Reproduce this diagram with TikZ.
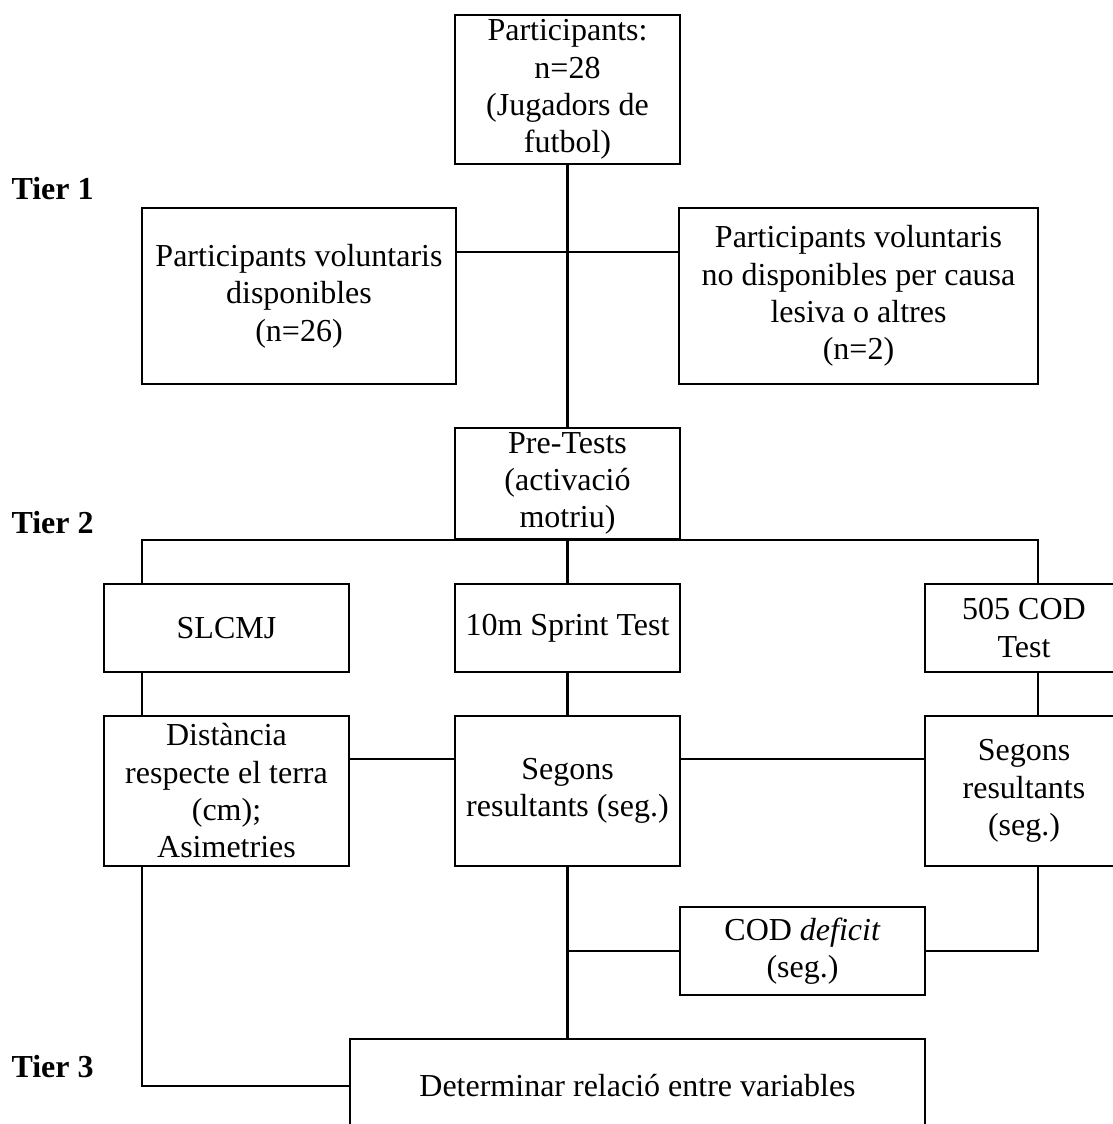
\documentclass[tikz,border=0pt]{standalone}
\usepackage{fontspec}
\setmainfont{Liberation Serif}
\tikzset{
  blok/.style={draw, line width=0.8pt, inner sep=0pt, align=center,
    font=\fontsize{12}{14}\selectfont},
  tierlabel/.style={anchor=west, inner sep=0pt, font=\fontsize{12}{14}\selectfont\bfseries},
  lnk/.style={line width=0.8pt}
}
\begin{document}
\begin{tikzpicture}[x=0.375pt,y=-0.375pt]
                \useasboundingbox (0,0) rectangle (1113,1124);
                % tier 1
                \node[blok, minimum width=84.4pt, minimum height=55.9pt] (part) at (567.5,89.5) {Participants:\\n=28\\(Jugadors de\\futbol)};
                \node[blok, minimum width=117.75pt, minimum height=66pt] (vol) at (299,296) {Participants voluntaris\\disponibles\\(n=26)};
                \node[blok, minimum width=134.6pt, minimum height=66pt] (novol) at (858.5,296) {Participants voluntaris\\no disponibles per causa\\lesiva o altres\\(n=2)};
                % tier 2
                \node[blok, minimum width=84.4pt, minimum height=41.6pt] (pretest) at (567.5,483.5) {Pre-Tests\\(activació\\motriu)};
                \node[blok, minimum width=91.9pt, minimum height=33pt] (slcmj) at (226.5,628) {SLCMJ};
                \node[blok, minimum width=84.4pt, minimum height=33pt] (sprint) at (567.5,628) {10m Sprint Test};
                \node[blok, minimum width=74.25pt, minimum height=33pt] (cod) at (1024,628) {505 COD\\Test};
                \node[blok, minimum width=91.9pt, minimum height=56.25pt] (dist) at (226.5,791) {Distància\\respecte el terra\\(cm);\\Asimetries};
                \node[blok, minimum width=84.4pt, minimum height=56.25pt] (segs) at (567.5,791) {Segons\\resultants (seg.)};
                \node[blok, minimum width=74.25pt, minimum height=56.25pt] (segcod) at (1024,791) {Segons\\resultants\\(seg.)};
                \node[blok, minimum width=91.9pt, minimum height=33pt] (deficit) at (802.5,951) {COD \textit{deficit}\\(seg.)};
                % tier 3
                \node[blok, minimum width=215.6pt, minimum height=35.25pt] (relacio) at (637.5,1086) {Determinar relació entre variables};
                \node[tierlabel] (t1) at (11,189) {Tier 1};
                \node[tierlabel] (t2) at (11,523) {Tier 2};
                \node[tierlabel] (t3) at (11,1067) {Tier 3};
                \coordinate (lcol) at (142,0);
                \coordinate (rcol) at (1038,0);
                \coordinate (tA) at (567.5,252);
                \coordinate (tB) at (0,759);
                \draw[lnk] (part.south) -- (pretest.north);
                \draw[lnk] (vol.east |- tA) -- (novol.west |- tA);
                \draw[lnk] (slcmj.north -| lcol) |- (pretest.south) -| (cod.north -| rcol);
                \draw[lnk] (pretest.south) -- (sprint.north);
                \draw[lnk] (slcmj.south -| lcol) -- (dist.north -| lcol);
                \draw[lnk] (sprint.south) -- (segs.north);
                \draw[lnk] (cod.south -| rcol) -- (segcod.north -| rcol);
                \draw[lnk] (dist.east |- tB) -- (segs.west |- tB);
                \draw[lnk] (segs.east |- tB) -- (segcod.west |- tB);
                \draw[lnk] (dist.south -| lcol) |- (relacio.west);
                \draw[lnk] (segs.south) -- (relacio.north -| segs.south);
                \draw[lnk] (segs.south |- deficit.west) -- (deficit.west);
                \draw[lnk] (deficit.east) -| (segcod.south -| rcol);
\end{tikzpicture}
\end{document}
